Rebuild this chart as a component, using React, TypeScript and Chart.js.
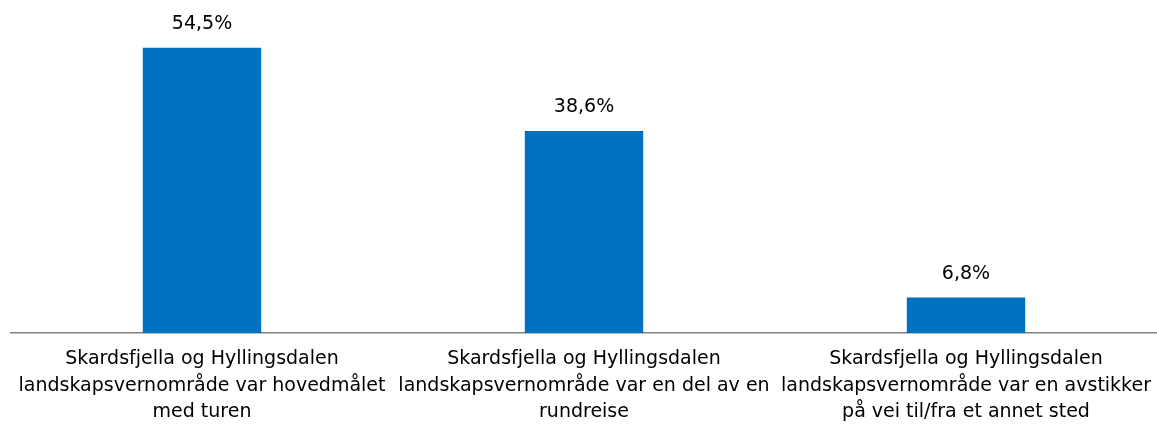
import React, { useEffect, useRef } from "react";
import { Chart, registerables } from "chart.js";

Chart.register(...registerables);

const categories: string[][] = [
  ["Skardsfjella og Hyllingsdalen", "landskapsvernområde var hovedmålet", "med turen"],
  ["Skardsfjella og Hyllingsdalen", "landskapsvernområde var en del av en", "rundreise"],
  ["Skardsfjella og Hyllingsdalen", "landskapsvernområde var en avstikker", "på vei til/fra et annet sted"],
];
const values: number[] = [54.5, 38.6, 6.8];
const valueLabels: string[] = ["54,5%", "38,6%", "6,8%"];

const FONT = "'DejaVu Sans', sans-serif";

const labelPlugin = {
  id: "valueLabels",
  afterDatasetsDraw(chart: any) {
    const ctx = chart.ctx;
    const meta = chart.getDatasetMeta(0);
    ctx.save();
    ctx.font = `19px ${FONT}`;
    ctx.fillStyle = "#000";
    ctx.textAlign = "center";
    ctx.textBaseline = "bottom";
    meta.data.forEach((bar: any, i: number) => {
      ctx.fillText(valueLabels[i], bar.x, bar.y - 14);
    });
    ctx.restore();
  },
};

export default function App() {
  const ref = useRef<HTMLCanvasElement>(null);
  useEffect(() => {
    if (!ref.current) return;
    const chart = new Chart(ref.current, {
      type: "bar",
      data: {
        labels: categories,
        datasets: [
          {
            data: values,
            backgroundColor: "#0070C0",
            categoryPercentage: 1,
            barPercentage: 0.31,
          },
        ],
      },
      options: {
        animation: false,
        responsive: false,
        maintainAspectRatio: false,
        layout: { padding: { top: 19, left: 11, right: 0, bottom: 0 } },
        plugins: { legend: { display: false }, tooltip: { enabled: false } },
        scales: {
          x: {
            grid: { display: false, drawTicks: false },
            border: { display: true, color: "#808080", width: 1.5 },
            ticks: {
              color: "#000",
              font: { family: FONT, size: 19, lineHeight: 1.4 },
              padding: 13,
              maxRotation: 0,
              autoSkip: false,
            },
            afterFit(scale: any) {
              scale.paddingLeft = 0;
              scale.paddingRight = 0;
              scale.height = 92;
            },
          },
          y: {
            display: false,
            min: 0,
            max: 60,
          },
        },
      },
      plugins: [labelPlugin],
    });
    return () => chart.destroy();
  }, []);
  return (
    <div style={{ position: "absolute", left: 0, top: 0, width: 1157, height: 425, background: "#fff" }}>
      <canvas ref={ref} width={1157} height={425} />
    </div>
  );
}
